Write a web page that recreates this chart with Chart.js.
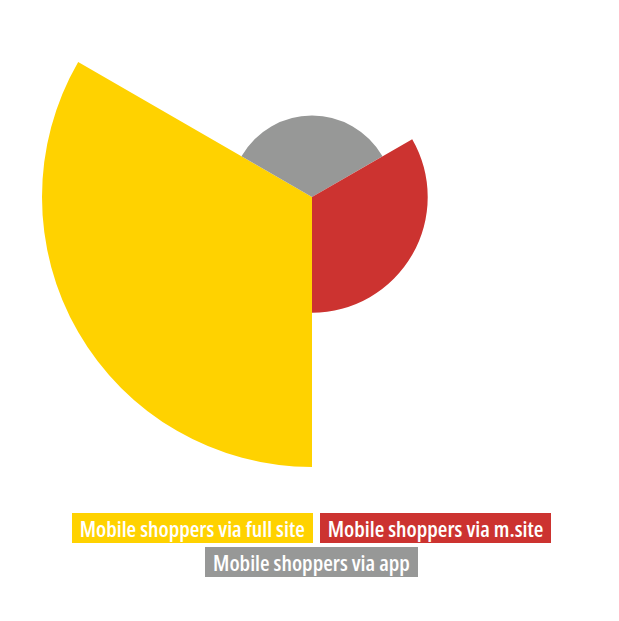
<!DOCTYPE html>
<html>
<head>
<meta charset="utf-8">
<script src="https://cdn.jsdelivr.net/npm/chart.js@4"></script>
<style>
  html, body { margin: 0; padding: 0; background: #fff; width: 619px; height: 621px; overflow: hidden; }
  #wrap { position: absolute; left: 42px; top: -73px; width: 540px; height: 540px; }
  #legend { position: absolute; left: 0; top: 513px; width: 623px; text-align: center;
    font-family: "Open Sans", sans-serif; font-stretch: 75%; font-weight: 600; font-size: 22px; }
  .row { display: flex; justify-content: center; gap: 7px; margin-bottom: 4px; }
  .item { color: #fff; height: 30px; line-height: 30px; padding: 0 8px; white-space: nowrap; }
</style>
</head>
<body>
<div id="wrap"><canvas id="polarChart" width="540" height="540"></canvas></div>
<div id="legend"></div>
<script>
// Data (drawn clockwise starting at the bottom)
const labels = ["Mobile shoppers via full site", "Mobile shoppers via app", "Mobile shoppers via m.site"];
const values = [63, 19, 27];
const colors = ["#FFD200", "#979897", "#CC3330"];
// legend rows, as indexes into labels
const legendRows = [[0, 2], [1]];

function renderChart() {
  const ctx = document.getElementById("polarChart").getContext("2d");
  new Chart(ctx, {
    type: "polarArea",
    data: {
      labels: labels,
      datasets: [
        {
          data: values,
          backgroundColor: colors,
          borderWidth: 0,
        },
      ],
    },
    options: {
      responsive: false,
      animation: false,
      devicePixelRatio: 1,
      plugins: {
        legend: { display: false },
        tooltip: { enabled: false },
      },
      scales: {
        r: {
          display: false,
          min: 0,
          max: 63,
          startAngle: 180,
        },
      },
    },
  });
}

function renderLegend() {
  const legend = document.getElementById("legend");
  legendRows.forEach((row) => {
    const div = document.createElement("div");
    div.className = "row";
    row.forEach((i) => {
      const span = document.createElement("span");
      span.className = "item";
      span.style.background = colors[i];
      span.textContent = labels[i];
      div.appendChild(span);
    });
    legend.appendChild(div);
  });
}

renderChart();
renderLegend();
</script>
</body>
</html>
